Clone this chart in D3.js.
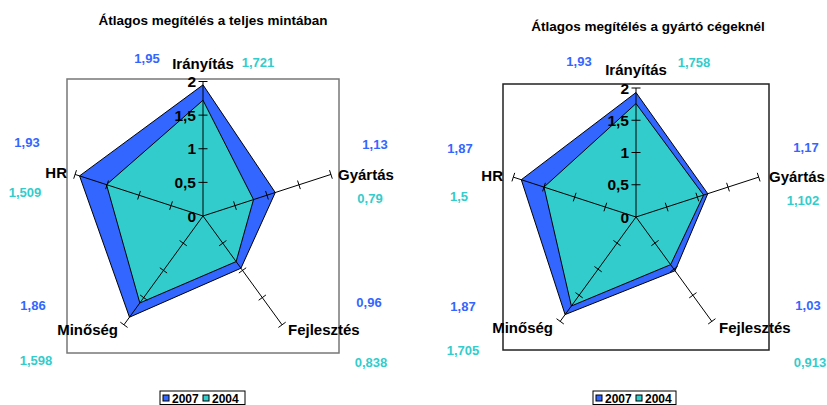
<!DOCTYPE html>
<html>
<head>
<meta charset="utf-8">
<script src="https://cdn.jsdelivr.net/npm/d3@7"></script>
<style>
  body { margin: 0; background: #fff; }
  svg { display: block; font-family: "Liberation Sans", Arial, sans-serif; font-weight: bold; }
</style>
</head>
<body>
<svg width="827" height="405"></svg>
<script>
// radar charts: average rating, full sample vs manufacturers

const categories = ["Irányítás", "Gyártás", "Fejlesztés", "Minőség", "HR"];
const seriesNames = ["2007", "2004"];
const seriesColors = ["#3366ff", "#33cccc"];
const tickValues = [0, 0.5, 1, 1.5, 2];
const tickLabels = ["0", "0,5", "1", "1,5", "2"];

// Átlagos megítélés a teljes mintában
const total2007 = [1.95, 1.13, 0.96, 1.86, 1.93];
const total2004 = [1.721, 0.79, 0.838, 1.598, 1.509];

// Átlagos megítélés a gyártó cégeknél
const maker2007 = [1.93, 1.17, 1.03, 1.87, 1.87];
const maker2004 = [1.758, 1.102, 0.913, 1.705, 1.5];

const titles = ["Átlagos megítélés a teljes mintában", "Átlagos megítélés a gyártó cégeknél"];

const fmt = v => String(v).replace(".", ",");

var svg = d3.select("svg");

// layout of each panel (positions only)
const layouts = [
  {
    box: [67, 79, 339, 353], cx: 203, cy: 216, r: 134.5, boxColor: "#777",
    title: [213, 25],
    cat: [[203, 69, "middle"], [338, 180, "start"], [288, 335, "start"], [118, 335, "end"], [67, 178, "end"]],
    v07: [[147, 63], [375, 149], [369, 307], [33, 310], [27, 147]],
    v04: [[258, 67], [370, 203], [371, 367], [36, 365], [25, 197]],
    legend: [160, 391]
  },
  {
    box: [503, 84, 769, 350], cx: 636, cy: 217, r: 129, boxColor: "#222",
    title: [648, 31],
    cat: [[636, 75, "middle"], [769, 182, "start"], [719, 333, "start"], [553, 333, "end"], [503, 181, "end"]],
    v07: [[579, 66], [806, 152], [808, 310], [463, 311], [460, 153]],
    v04: [[694, 67], [803, 205], [810, 367], [463, 355], [459, 201]],
    legend: [593, 391]
  }
];

const panels = [[total2007, total2004], [maker2007, maker2004]];

panels.forEach(function(vals, i) {
  drawRadar(layouts[i], vals, titles[i]);
});

function drawRadar(L, vals, title) {
  var g = svg.append("g");
  var rScale = d3.scaleLinear().domain([0, 2]).range([0, L.r]);
  var angle = d3.scaleLinear().domain([0, categories.length]).range([0, 2 * Math.PI]);

  function pt(i, v) {
    var a = angle(i);
    return [L.cx + rScale(v) * Math.sin(a), L.cy - rScale(v) * Math.cos(a)];
  }

  // plot area box
  g.append("rect")
    .attr("x", L.box[0]).attr("y", L.box[1])
    .attr("width", L.box[2] - L.box[0]).attr("height", L.box[3] - L.box[1])
    .attr("fill", "none").attr("stroke", L.boxColor).attr("stroke-width", 1.5);

  // series polygons
  var line = d3.line();
  vals.forEach(function(s, k) {
    g.append("path")
      .attr("d", line(s.map((v, j) => pt(j, v))) + "Z")
      .attr("fill", seriesColors[k])
      .attr("stroke", "#000")
      .attr("stroke-width", 1);
  });

  // axes with ticks
  categories.forEach(function(c, j) {
    var a = angle(j);
    var end = pt(j, 2);
    g.append("line")
      .attr("x1", L.cx).attr("y1", L.cy)
      .attr("x2", end[0]).attr("y2", end[1])
      .attr("stroke", "#000").attr("stroke-width", 1);
    var px = Math.cos(a) * 4.5, py = Math.sin(a) * 4.5;
    tickValues.slice(1).forEach(function(t) {
      var p = pt(j, t);
      g.append("line")
        .attr("x1", p[0] - px).attr("y1", p[1] - py)
        .attr("x2", p[0] + px).attr("y2", p[1] + py)
        .attr("stroke", "#000").attr("stroke-width", 1);
    });
  });

  // value axis labels
  tickValues.forEach(function(t, k) {
    var p = pt(0, t);
    g.append("text")
      .attr("x", p[0] - 7).attr("y", p[1] + 5.5)
      .attr("text-anchor", "end")
      .attr("font-size", 15.5)
      .text(tickLabels[k]);
  });

  // category labels
  categories.forEach(function(c, j) {
    g.append("text")
      .attr("x", L.cat[j][0]).attr("y", L.cat[j][1])
      .attr("text-anchor", L.cat[j][2])
      .attr("font-size", 15)
      .text(c);
  });

  // value labels
  [L.v07, L.v04].forEach(function(pos, k) {
    vals[k].forEach(function(v, j) {
      g.append("text")
        .attr("x", pos[j][0]).attr("y", pos[j][1])
        .attr("text-anchor", "middle")
        .attr("font-size", 13)
        .attr("fill", seriesColors[k])
        .text(fmt(v));
    });
  });

  // title
  g.append("text")
    .attr("x", L.title[0]).attr("y", L.title[1])
    .attr("text-anchor", "middle")
    .attr("font-size", 13.5)
    .text(title);

  // legend
  var lg = g.append("g").attr("transform", "translate(" + L.legend[0] + "," + L.legend[1] + ")");
  var lw = L.legend[0] > 400 ? 83 : 85;
  lg.append("rect").attr("x", 0).attr("y", 0).attr("width", lw).attr("height", 13.5)
    .attr("fill", "#fff").attr("stroke", "#000").attr("stroke-width", 1);
  seriesNames.forEach(function(n, k) {
    var x0 = 3 + k * 40;
    lg.append("rect").attr("x", x0).attr("y", 4).attr("width", 6).attr("height", 6)
      .attr("fill", seriesColors[k]).attr("stroke", "#000").attr("stroke-width", 1);
    lg.append("text").attr("x", x0 + 9).attr("y", 11.5)
      .attr("font-size", 12)
      .text(n);
  });
}
</script>
</body>
</html>
